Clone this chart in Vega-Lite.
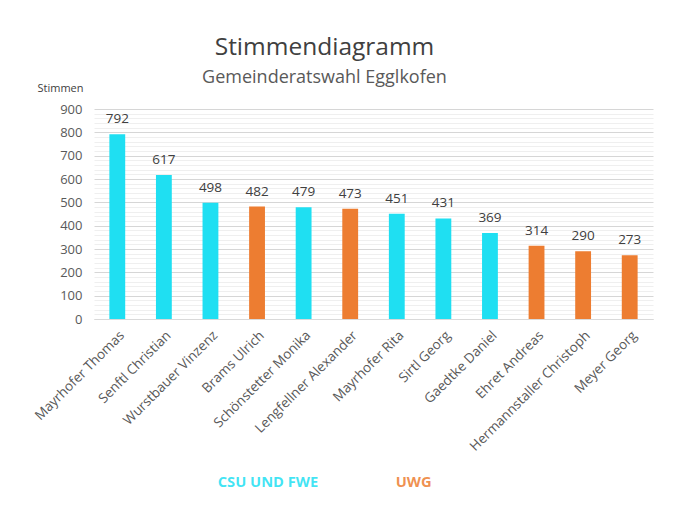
{
  "$schema": "https://vega.github.io/schema/vega-lite/v6.json",
  "width": 559,
  "height": 210,
  "autosize": "none",
  "padding": {"left": 94, "top": 109, "right": 28, "bottom": 192},
  "background": "white",
  "title": {
    "text": "Stimmendiagramm",
    "subtitle": "Gemeinderatswahl Egglkofen",
    "anchor": "middle",
    "dx": -49,
    "offset": -6,
    "font": "Open Sans",
    "fontSize": 24.5,
    "fontWeight": "normal",
    "color": "#404040",
    "subtitleFont": "Open Sans",
    "subtitleFontSize": 18,
    "subtitleColor": "#595959",
    "subtitlePadding": 9
  },
  "config": {
    "font": "Open Sans",
    "view": {"stroke": null}
  },
  "data": {
    "values": [
      {"name": "Mayrhofer Thomas", "votes": 792, "party": "CSU UND FWE"},
      {"name": "Senftl Christian", "votes": 617, "party": "CSU UND FWE"},
      {"name": "Wurstbauer Vinzenz", "votes": 498, "party": "CSU UND FWE"},
      {"name": "Brams Ulrich", "votes": 482, "party": "UWG"},
      {"name": "Schönstetter Monika", "votes": 479, "party": "CSU UND FWE"},
      {"name": "Lengfellner Alexander", "votes": 473, "party": "UWG"},
      {"name": "Mayrhofer Rita", "votes": 451, "party": "CSU UND FWE"},
      {"name": "Sirtl Georg", "votes": 431, "party": "CSU UND FWE"},
      {"name": "Gaedtke Daniel", "votes": 369, "party": "CSU UND FWE"},
      {"name": "Ehret Andreas", "votes": 314, "party": "UWG"},
      {"name": "Hermannstaller Christoph", "votes": 290, "party": "UWG"},
      {"name": "Meyer Georg", "votes": 273, "party": "UWG"}
    ]
  },
  "encoding": {
    "x": {
      "field": "name",
      "type": "nominal",
      "sort": null,
      "scale": {"paddingInner": 0.66, "paddingOuter": 0.33},
      "axis": {
        "title": null,
        "labelAngle": -45,
        "labelAlign": "right",
        "labelBaseline": "top",
        "labelFontSize": 13.5,
        "labelColor": "#595959",
        "labelPadding": 9,
        "ticks": false,
        "domainColor": "#d9d9d9",
        "grid": false
      }
    },
    "y": {
      "field": "votes",
      "type": "quantitative",
      "scale": {"domain": [0, 900], "nice": false},
      "axis": {
        "title": "Stimmen",
        "titleAngle": 0,
        "titleFontSize": 11,
        "titleFontWeight": "normal",
        "titleColor": "#404040",
        "titleX": -34,
        "titleY": -16,
        "titleAlign": "center",
        "values": [0,20,40,60,80,100,120,140,160,180,200,220,240,260,280,300,320,340,360,380,400,420,440,460,480,500,520,540,560,580,600,620,640,660,680,700,720,740,760,780,800,820,840,860,880,900],
        "labelExpr": "datum.value % 100 === 0 ? datum.label : ''",
        "labelFontSize": 13,
        "labelColor": "#595959",
        "labelPadding": 12,
        "ticks": false,
        "domain": false,
        "gridColor": {"condition": {"test": "datum.value % 100 === 0", "value": "#d6d6d6"}, "value": "#efefef"},
        "gridWidth": 1
      }
    }
  },
  "layer": [
    {
      "mark": {"type": "bar"},
      "encoding": {
        "color": {
          "field": "party",
          "type": "nominal",
          "scale": {"domain": ["CSU UND FWE", "UWG"], "range": ["#1fdff2", "#ed7d31"]},
          "legend": {
            "title": null,
            "orient": "none",
            "direction": "horizontal",
            "legendX": 109,
            "legendY": 366,
            "symbolSize": 0,
            "symbolOpacity": 0,
            "symbolStrokeWidth": 0,
            "labelOffset": 0,
            "columnPadding": 62,
            "labelFontSize": 14.7,
            "labelFontWeight": "bold",
            "labelOpacity": 0.85,
            "encode": {
              "labels": {"update": {"fill": {"scale": "color", "field": "value"}}}
            }
          }
        }
      }
    },
    {
      "mark": {"type": "text", "baseline": "alphabetic", "dy": -11, "fontSize": 13.5, "color": "#404040"},
      "encoding": {
        "text": {"field": "votes", "type": "quantitative"}
      }
    }
  ]
}
